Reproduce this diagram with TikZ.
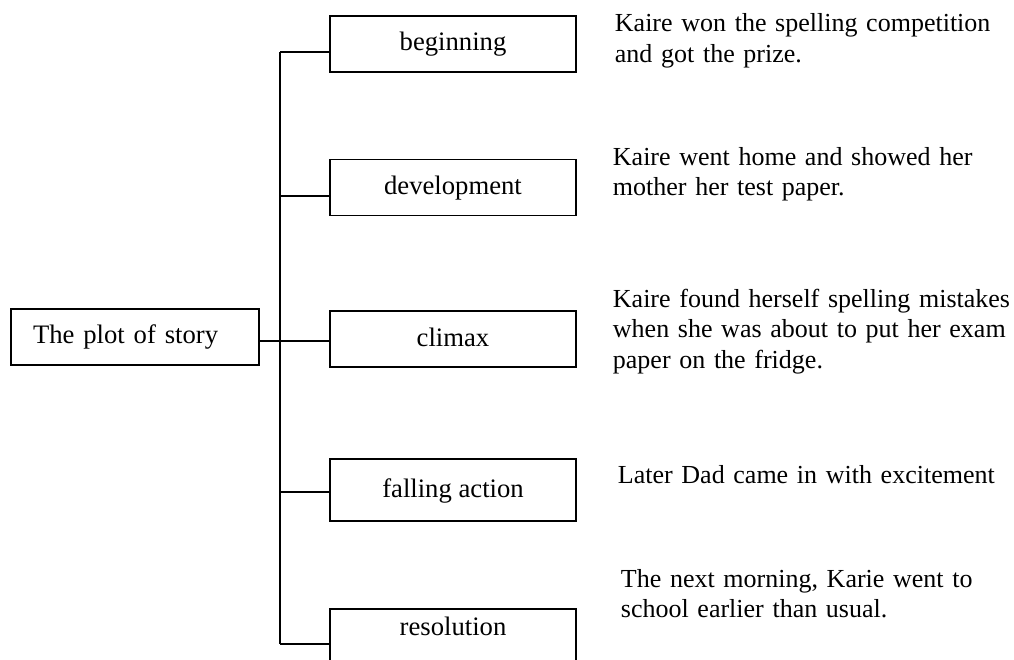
\documentclass[tikz,border=0pt]{standalone}
\usepackage{fontspec}
\setmainfont{Liberation Serif}

\begin{document}
\begin{tikzpicture}[x=0.75pt, y=-0.75pt, line width=1.4pt,
        stage/.style={draw, minimum width=184.5pt, minimum height=42pt, inner sep=0pt, text height=14.5pt, text depth=4pt, font=\fontsize{20}{23}\selectfont},
        event/.style={anchor=base west, inner sep=0pt, text width=310pt, align=left, font=\fontsize{19.5}{23}\selectfont}]
        \useasboundingbox (0,0) rectangle (1014,660);

        % Story box
        \node[draw, text width=153pt, inner xsep=16.5pt, inner ysep=0pt, minimum height=42pt, align=left, font=\fontsize{20}{23}\selectfont] (plot) at (135,337) {The plot of story};

        % Stages
        \node[stage] (beginning) at (453,44) {beginning};
        \node[stage] (development) at (453,187.5) {development};
        \node[stage] (climax) at (453,339) {climax};
        \node[stage, minimum height=46.5pt] (falling) at (453,490) {falling action};
        \node[stage, text depth=17.5pt] (resolution) at (453,637) {resolution};

        % Bus and branches
        \coordinate (j1) at (280,52);
        \coordinate (j2) at (280,196);
        \coordinate (j3) at (280,341);
        \coordinate (j4) at (280,492);
        \coordinate (j5) at (280,644);
        \draw (j1) -- (j5);
        \draw (j1) -- (j1 -| beginning.west);
        \draw (j2) -- (j2 -| development.west);
        \draw (plot.east |- j3) -- (j3 -| climax.west);
        \draw (j4) -- (j4 -| falling.west);
        \draw (j5) -- (j5 -| resolution.west);

        % Events
        \node[event] (e1) at (614,32) {Kaire won the spelling competition\\and got the prize.};
        \node[event] (e2) at (612,165) {Kaire went home and showed her\\mother her test paper.};
        \node[event] (e3) at (612,307) {Kaire found herself spelling mistakes\\when she was about to put her exam\\paper on the fridge.};
        \node[event] (e4) at (617,483) {Later Dad came in with excitement};
        \node[event] (e5) at (620,587) {The next morning, Karie went to\\school earlier than usual.};

    \end{tikzpicture}
\end{document}
